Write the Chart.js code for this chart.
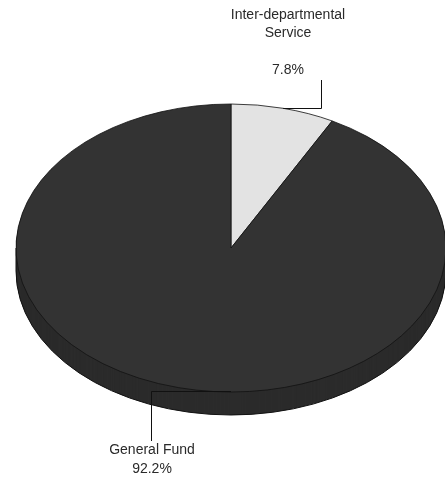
<!DOCTYPE html>
<html>
<head>
<meta charset="utf-8">
<script src="https://cdn.jsdelivr.net/npm/chart.js@4"></script>
<style>
  html, body { margin: 0; padding: 0; background: #fff; }
  #wrap { width: 445px; height: 491px; }
</style>
</head>
<body>
<div id="wrap"><canvas id="pie" width="445" height="491"></canvas></div>
<script>
// data
const labels = ['Inter-departmental Service', 'General Fund'];
const values = [7.8, 92.2];
const labelLines = [['Inter-departmental', 'Service'], ['General Fund']];

const topColors  = ['#e3e3e3', '#333333'];
const sideColors = ['#bdbdbd', '#2b2b2b'];

// ellipse on screen (3d look)
const CX = 231, CY = 248, RX = 215, RY = 144, DEPTH = 23;

// label layout: text centre, leader x, text top
const labelPos = [
  { tx: 288, ty: 15, lx: 321, pctY: 70, up: true },
  { tx: 152, ty: 450, lx: 151, pctY: 469, up: false }
];

function setTransform(ctx, arc) {
  const r = arc.outerRadius;
  ctx.translate(CX, CY);
  ctx.scale(RX / r, RY / r);
  ctx.translate(-arc.x, -arc.y);
}

const pie3d = {
  id: 'pie3d',
  beforeDatasetsDraw(chart) {
    const ctx = chart.ctx;
    const arcs = chart.getDatasetMeta(0).data;
    // side wall: stack the slices downwards
    for (let d = DEPTH; d >= 1; d--) {
      arcs.forEach((arc, i) => {
        const o = arc.options;
        const bg = o.backgroundColor, bw = o.borderWidth;
        o.backgroundColor = sideColors[i];
        o.borderWidth = 0;
        ctx.save();
        ctx.translate(0, d);
        setTransform(ctx, arc);
        arc.draw(ctx);
        ctx.restore();
        o.backgroundColor = bg;
        o.borderWidth = bw;
      });
    }
    // outline of the side
    ctx.save();
    ctx.strokeStyle = '#111';
    ctx.lineWidth = 1;
    ctx.beginPath();
    ctx.ellipse(CX, CY + DEPTH, RX, RY, 0, 0, Math.PI);
    ctx.stroke();
    ctx.beginPath();
    ctx.moveTo(CX - RX, CY); ctx.lineTo(CX - RX, CY + DEPTH);
    ctx.moveTo(CX + RX, CY); ctx.lineTo(CX + RX, CY + DEPTH);
    ctx.stroke();
    ctx.restore();

    ctx.save();
    setTransform(ctx, arcs[0]);
  },
  afterDatasetsDraw(chart) {
    const ctx = chart.ctx;
    ctx.restore();
    const arcs = chart.getDatasetMeta(0).data;
    const total = values.reduce((a, b) => a + b, 0);

    ctx.save();
    ctx.font = '14px "Liberation Sans", Arial, sans-serif';
    ctx.fillStyle = '#2a2a2a';
    ctx.strokeStyle = '#111';
    ctx.lineWidth = 1;
    ctx.textAlign = 'center';
    ctx.textBaseline = 'middle';

    arcs.forEach((arc, i) => {
      const p = labelPos[i];
      const mid = (arc.startAngle + arc.endAngle) / 2;
      let ex = CX + RX * Math.cos(mid);
      let ey = CY + RY * Math.sin(mid);
      if (!p.up) { ex = CX; ey = CY + RY - 1; }
      const lx = Math.round(p.lx) + 0.5;
      ctx.beginPath();
      ctx.moveTo(ex, Math.round(ey) + 0.5);
      ctx.lineTo(lx, Math.round(ey) + 0.5);
      ctx.lineTo(lx, p.up ? p.pctY + 10 : p.ty - 9);
      ctx.stroke();

      const pct = (values[i] / total * 100).toFixed(1) + '%';
      labelLines[i].forEach((t, k) => ctx.fillText(t, p.tx, p.ty + k * 18));
      ctx.fillText(pct, p.tx, p.pctY);
    });
    ctx.restore();
  }
};

new Chart(document.getElementById('pie'), {
  type: 'pie',
  data: {
    labels: labels,
    datasets: [{
      data: values,
      backgroundColor: topColors,
      borderColor: '#111',
      borderWidth: 1
    }]
  },
  options: {
    responsive: false,
    animation: false,
    layout: { padding: 0 },
    plugins: {
      legend: { display: false },
      tooltip: { enabled: false }
    }
  },
  plugins: [pie3d]
});
</script>
</body>
</html>
